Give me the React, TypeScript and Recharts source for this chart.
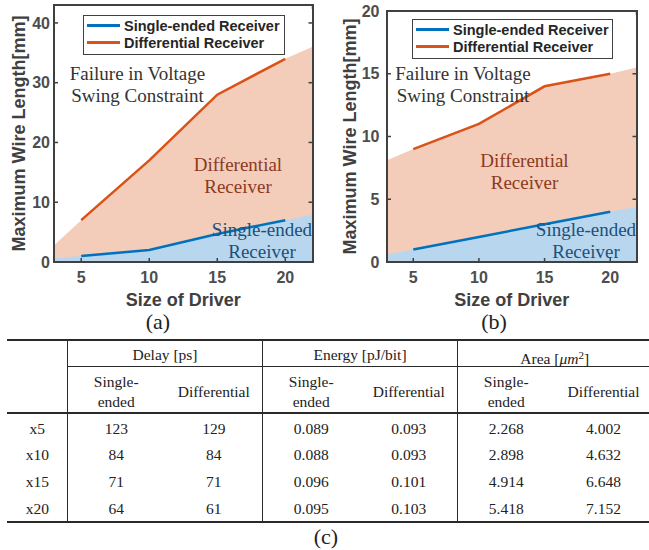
import { ComposedChart, Area, Line, XAxis, YAxis, Legend } from 'recharts';

// driver sizes (x) and the x range the shaded regions are drawn over
const driverSizes = [5, 10, 15, 20];
const regionX = [3, 5, 10, 15, 20, 22];
const seriesNames = ['Single-ended Receiver', 'Differential Receiver'];

// panel (a)
const singleA = [1, 2, 4.7, 7];
const diffA = [7, 17, 28, 34];
const singleRegionA = [0.6, 1, 2, 4.7, 7, 7.9];
const diffRegionA = [2.8, 7, 17, 28, 34, 36];
const yTicksA = [0, 10, 20, 30, 40];

// panel (b)
const singleB = [1, 2, 3, 4];
const diffB = [9, 11, 14, 15];
const singleRegionB = [0.6, 1, 2, 3, 4, 4.4];
const diffRegionB = [8.1, 9, 11, 14, 15, 15.5];
const yTicksB = [0, 5, 10, 15, 20];

// table (c)
const sizeLabels = ['x5', 'x10', 'x15', 'x20'];
const delaySingle = ['123', '84', '71', '64'];
const delayDiff = ['129', '84', '71', '61'];
const energySingle = ['0.089', '0.088', '0.096', '0.095'];
const energyDiff = ['0.093', '0.093', '0.101', '0.103'];
const areaSingle = ['2.268', '2.898', '4.914', '5.418'];
const areaDiff = ['4.002', '4.632', '6.648', '7.152'];

const SANS = '"Liberation Sans", Arial, sans-serif';
const SERIF = '"Liberation Serif", "Times New Roman", serif';
const FRAME = '#404040';
const BLUE = '#0072BD';
const ORANGE = '#D95319';
const TICK_LEN = 4;
const TICK_W = 1.5;
const tickFont = { fill: '#4d4d4d', fontSize: 16, fontWeight: 'bold', fontFamily: SANS };

const buildRows = (single: number[], diff: number[], singleRegion: number[], diffRegion: number[]) =>
  regionX.map((x, i) => {
    const k = driverSizes.indexOf(x);
    return {
      x,
      singleRegion: singleRegion[i],
      diffRegion: diffRegion[i],
      single: k >= 0 ? single[k] : undefined,
      diff: k >= 0 ? diff[k] : undefined,
    };
  });

// MATLAB style ticks: short marks pointing into the plot box
const BottomTick = ({ x, y, payload, gap }: any) => (
  <g>
    <rect x={x - TICK_W / 2} y={y - gap - TICK_LEN} width={TICK_W} height={TICK_LEN} fill={FRAME} />
    <text x={x} y={y} dy="0.71em" textAnchor="middle" {...tickFont}>
      {payload.value}
    </text>
  </g>
);
const LeftTick = ({ x, y, payload, gap }: any) => (
  <g>
    <rect x={x + gap} y={y - TICK_W / 2} width={TICK_LEN} height={TICK_W} fill={FRAME} />
    <text x={x} y={y} dy="0.355em" textAnchor="end" {...tickFont}>
      {payload.value}
    </text>
  </g>
);
const TopTick = ({ x, y }: any) => <rect x={x - TICK_W / 2} y={y} width={TICK_W} height={TICK_LEN} fill={FRAME} />;
const RightTick = ({ x, y }: any) => <rect x={x - TICK_LEN} y={y - TICK_W / 2} width={TICK_LEN} height={TICK_W} fill={FRAME} />;

const LegendBox = ({ payload, width }: any) => {
  const items = (payload || [])
    .filter((p: any) => seriesNames.includes(p.value))
    .sort((a: any, b: any) => seriesNames.indexOf(a.value) - seriesNames.indexOf(b.value));
  return (
    <div
      style={{
        width,
        boxSizing: 'border-box',
        border: `1.5px solid ${FRAME}`,
        background: '#fff',
        padding: '1px 3px 2px 3px',
        fontFamily: SANS,
        fontWeight: 'bold',
        fontSize: 14.5,
        color: '#262626',
      }}
    >
      {items.map((p: any) => (
        <div key={p.value} style={{ display: 'flex', alignItems: 'center', height: 17.3, whiteSpace: 'nowrap' }}>
          <span style={{ display: 'inline-block', width: 33, height: 3, background: p.color, marginRight: 4 }} />
          <span>{p.value}</span>
        </div>
      ))}
    </div>
  );
};

type Note = { lines: string[]; x: number; y: number; color: string };

const CHART_W = 330;
const CHART_H = 320;
const X_AXIS_H = 46;
const BOTTOM = 12;

const Panel = ({ rows, yMax, yTicks, yAxisWidth, yTickGap, yLabelX, top, right, legend, notes }: any) => {
  // plot box, same numbers that size the chart margins and axes
  const box = {
    x: yAxisWidth,
    y: top + 1,
    w: CHART_W - right - 1 - yAxisWidth,
    h: CHART_H - top - 1 - X_AXIS_H - BOTTOM,
  };
  return (
    <div style={{ position: 'relative', width: CHART_W, height: CHART_H }}>
      <ComposedChart width={CHART_W} height={CHART_H} data={rows} margin={{ top, right, bottom: BOTTOM, left: 0 }}>
        <Area type="linear" dataKey="diffRegion" fill="#F4CDBA" fillOpacity={1} stroke="none" legendType="none" isAnimationActive={false} />
        <Area type="linear" dataKey="singleRegion" fill="#B8D7EE" fillOpacity={1} stroke="none" legendType="none" isAnimationActive={false} />
        <Line type="linear" dataKey="single" name={seriesNames[0]} stroke={BLUE} strokeWidth={2.5} dot={false} isAnimationActive={false} />
        <Line type="linear" dataKey="diff" name={seriesNames[1]} stroke={ORANGE} strokeWidth={2.5} dot={false} isAnimationActive={false} />
        <XAxis
          dataKey="x"
          type="number"
          domain={[3, 22]}
          ticks={driverSizes}
          interval={0}
          allowDataOverflow
          height={X_AXIS_H}
          axisLine={false}
          tickLine={false}
          tickSize={0}
          tickMargin={10}
          tick={(p: any) => <BottomTick {...p} gap={10} />}
          label={{ value: 'Size of Driver', position: 'insideBottom', offset: 2, fill: '#404040', fontSize: 18, fontWeight: 'bold', fontFamily: SANS }}
        />
        <XAxis
          xAxisId="top"
          orientation="top"
          type="number"
          domain={[3, 22]}
          ticks={driverSizes}
          interval={0}
          allowDataOverflow
          height={1}
          axisLine={false}
          tickLine={false}
          tickSize={0}
          tickMargin={0}
          tick={(p: any) => <TopTick {...p} />}
        />
        <YAxis
          type="number"
          domain={[0, yMax]}
          ticks={yTicks}
          interval={0}
          allowDataOverflow
          width={yAxisWidth}
          axisLine={false}
          tickLine={false}
          tickSize={0}
          tickMargin={yTickGap}
          tick={(p: any) => <LeftTick {...p} gap={yTickGap} />}
          label={{
            value: 'Maximum Wire Length[mm]',
            angle: -90,
            position: 'insideLeft',
            offset: yLabelX,
            fill: '#404040',
            fontSize: 18,
            fontWeight: 'bold',
            fontFamily: SANS,
            style: { textAnchor: 'middle' },
          }}
        />
        <YAxis
          yAxisId="right"
          orientation="right"
          type="number"
          domain={[0, yMax]}
          ticks={yTicks}
          interval={0}
          allowDataOverflow
          width={1}
          axisLine={false}
          tickLine={false}
          tickSize={0}
          tickMargin={0}
          tick={(p: any) => <RightTick {...p} />}
        />
        <Legend
          layout="vertical"
          align="center"
          verticalAlign="middle"
          content={(props: any) => <LegendBox payload={props.payload} width={legend.width} />}
          wrapperStyle={{ left: legend.left, top: legend.top, width: legend.width, margin: 0, padding: 0 }}
        />
      </ComposedChart>
      {/* box outline around the plot area */}
      <div
        style={{
          position: 'absolute',
          left: box.x - 1,
          top: box.y - 1,
          width: box.w + 2,
          height: box.h + 2,
          boxSizing: 'border-box',
          border: `2px solid ${FRAME}`,
          pointerEvents: 'none',
        }}
      />
      {/* region annotations, drawn above the shaded areas */}
      <svg width={CHART_W} height={CHART_H} style={{ position: 'absolute', left: 0, top: 0, pointerEvents: 'none' }}>
        {notes.map((n: Note) =>
          n.lines.map((t, i) => (
            <text key={t + i} x={n.x} y={n.y + i * 22} textAnchor="middle" fill={n.color} fontFamily={SERIF} fontSize={19}>
              {t}
            </text>
          )),
        )}
      </svg>
    </div>
  );
};

const notesA: Note[] = [
  { lines: ['Failure in Voltage', 'Swing Constraint'], x: 137.5, y: 80, color: '#333333' },
  { lines: ['Differential', 'Receiver'], x: 238, y: 170.5, color: '#8B3A1E' },
  { lines: ['Single-ended', 'Receiver'], x: 262, y: 236, color: '#1E4F7A' },
];
const notesB: Note[] = [
  { lines: ['Failure in Voltage', 'Swing Constraint'], x: 143, y: 80, color: '#333333' },
  { lines: ['Differential', 'Receiver'], x: 204.5, y: 167, color: '#8B3A1E' },
  { lines: ['Single-ended', 'Receiver'], x: 266, y: 236, color: '#1E4F7A' },
];

// table layout
const colEdges = [7, 67.5, 165, 262.5, 360, 457.5, 555, 652];
const rowCenters = [429.3, 454.7, 481.7, 509];
const groups = ['Delay [ps]', 'Energy [pJ/bit]', 'Area'];

const Cell = ({ x0, x1, cy, children, h = 20 }: any) => (
  <div
    style={{
      position: 'absolute',
      left: x0,
      width: x1 - x0,
      top: cy - h / 2,
      height: h,
      lineHeight: '20px',
      textAlign: 'center',
      whiteSpace: 'nowrap',
    }}
  >
    {children}
  </div>
);

const hLine = (y: number, x0: number, x1: number, w: number) => (
  <div key={`h${y}`} style={{ position: 'absolute', left: x0, width: x1 - x0, top: y - w / 2, height: w, background: '#2a2a2a' }} />
);
const vLine = (x: number) => (
  <div key={`v${x}`} style={{ position: 'absolute', left: x - 0.75, width: 1.5, top: 340, height: 182, background: '#2a2a2a' }} />
);

const Table = () => {
  const columns = [delaySingle, delayDiff, energySingle, energyDiff, areaSingle, areaDiff];
  return (
    <div style={{ fontFamily: SERIF, fontSize: 15.5, color: '#222' }}>
      {hLine(340, 7, 649, 2)}
      {hLine(366, 67.5, 649, 1)}
      {hLine(413, 7, 649, 2)}
      {hLine(521.5, 7, 649, 2)}
      {[67.5, 262.5, 457.5].map(vLine)}
      {groups.map((g, i) => (
        <Cell key={g} x0={colEdges[1 + i * 2]} x1={colEdges[3 + i * 2]} cy={355}>
          {g === 'Area' ? (
            <span>
              Area [<i>μm</i>
              <sup style={{ fontSize: 11, verticalAlign: 5 }}>2</sup>]
            </span>
          ) : (
            g
          )}
        </Cell>
      ))}
      {[0, 1, 2].map((i) => (
        <div key={i}>
          <Cell x0={colEdges[1 + i * 2]} x1={colEdges[2 + i * 2]} cy={391.7} h={40}>
            Single-
            <br />
            ended
          </Cell>
          <Cell x0={colEdges[2 + i * 2]} x1={colEdges[3 + i * 2]} cy={391.7}>
            Differential
          </Cell>
        </div>
      ))}
      {sizeLabels.map((s, r) => (
        <div key={s}>
          <Cell x0={colEdges[0]} x1={colEdges[1]} cy={rowCenters[r]}>
            {s}
          </Cell>
          {columns.map((col, c) => (
            <Cell key={c} x0={colEdges[1 + c]} x1={colEdges[2 + c]} cy={rowCenters[r]}>
              {col[r]}
            </Cell>
          ))}
        </div>
      ))}
    </div>
  );
};

const Caption = ({ x, y, children }: any) => (
  <div
    style={{
      position: 'absolute',
      left: x - 30,
      width: 60,
      top: y - 13,
      height: 26,
      lineHeight: '26px',
      textAlign: 'center',
      fontFamily: SERIF,
      fontSize: 22,
      color: '#222',
    }}
  >
    {children}
  </div>
);

export default function App() {
  const rowsA = buildRows(singleA, diffA, singleRegionA, diffRegionA);
  const rowsB = buildRows(singleB, diffB, singleRegionB, diffRegionB);
  return (
    <div style={{ position: 'absolute', left: 0, top: 0, width: 649, height: 550, overflow: 'hidden', background: '#fff' }}>
      <div style={{ position: 'absolute', left: 0, top: 0 }}>
        <Panel
          rows={rowsA}
          yMax={43}
          yTicks={yTicksA}
          yAxisWidth={54}
          yTickGap={4}
          yLabelX={19}
          top={4}
          right={16.5}
          legend={{ left: 83, top: 15, width: 202 }}
          notes={notesA}
        />
      </div>
      <div style={{ position: 'absolute', left: 320, top: 0 }}>
        <Panel
          rows={rowsB}
          yMax={20}
          yTicks={yTicksB}
          yAxisWidth={67}
          yTickGap={7.5}
          yLabelX={30}
          top={10}
          right={12.5}
          legend={{ left: 92, top: 19, width: 201 }}
          notes={notesB}
        />
      </div>
      <Caption x={158} y={322}>(a)</Caption>
      <Caption x={494} y={322}>(b)</Caption>
      <Table />
      <Caption x={326} y={537}>(c)</Caption>
    </div>
  );
}
